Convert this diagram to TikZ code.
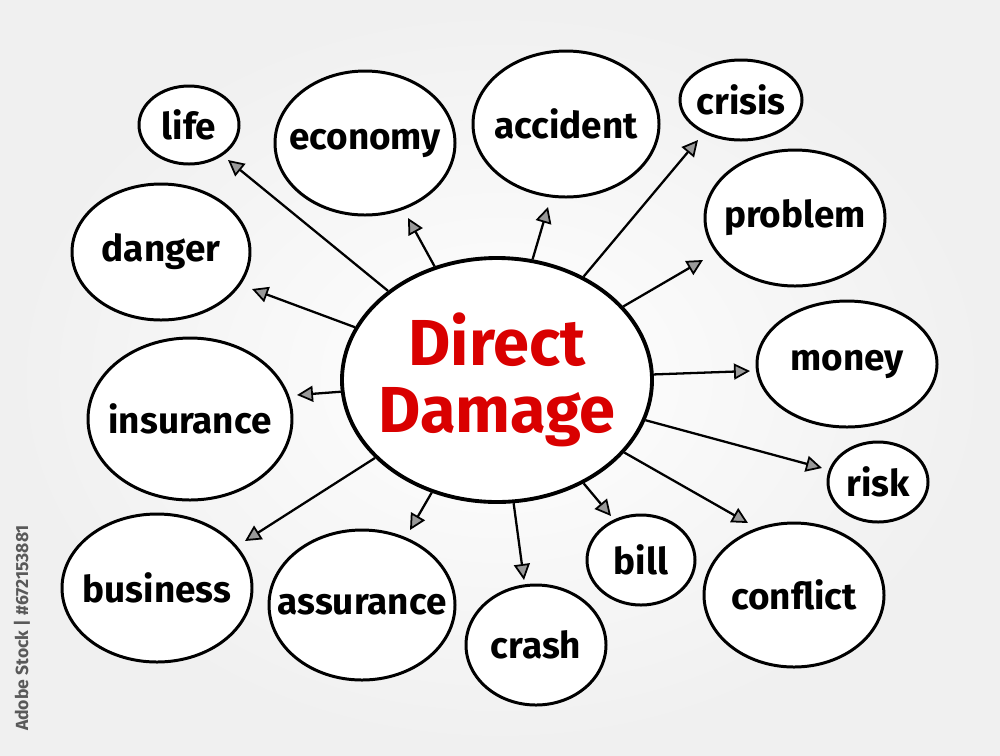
\documentclass[tikz,border=0pt]{standalone}
\usepackage{fontspec}
\setmainfont{Fira Sans}
\usetikzlibrary{shapes.geometric,arrows.meta}
\begin{document}
\begin{tikzpicture}[x=0.02cm,y=-0.02cm,
  bubble/.style={ellipse,draw=black,line width=1.7pt,fill=white,inner sep=0pt},
  lbl/.style={font=\fontsize{21}{24}\selectfont\bfseries,inner sep=0pt},
  hub/.style={ellipse,draw=black,line width=2.2pt,fill=white,inner sep=0pt},
  hublbl/.style={text=red!85!black,align=center,inner sep=0pt,
    font=\fontsize{37}{40}\selectfont\bfseries},
  arr/.style={line width=1.3pt,-{Triangle[length=0.32cm,width=0.32cm,line width=1pt,fill=black!40]}},
  stocklabel/.style={font=\fontsize{10}{12}\selectfont\bfseries,text=black!65}]
\useasboundingbox (0,0) rectangle (1000,755);
\shade[inner color=white,outer color=black!6] (0,0) rectangle (1000,755);
% hub
\node[hub,minimum width=310*0.02cm,minimum height=244*0.02cm,
  label={[hublbl]center:Direct\\[-2pt]Damage}] (c) at (497,380) {};
% satellites
\node[bubble,minimum width=100*0.02cm,minimum height=78*0.02cm,label={[lbl]center:life}] (life) at (189,125) {};
\node[bubble,minimum width=180*0.02cm,minimum height=144*0.02cm,label={[lbl]center:economy}] (economy) at (365,143) {};
\node[bubble,minimum width=186*0.02cm,minimum height=146*0.02cm,label={[lbl]center:accident}] (accident) at (566,124) {};
\node[bubble,minimum width=122*0.02cm,minimum height=80*0.02cm,label={[lbl]center:crisis}] (crisis) at (741,100) {};
\node[bubble,minimum width=180*0.02cm,minimum height=136*0.02cm,label={[lbl]center:problem}] (problem) at (795,218) {};
\node[bubble,minimum width=178*0.02cm,minimum height=136*0.02cm,label={[lbl]center:danger}] (danger) at (161,252) {};
\node[bubble,minimum width=180*0.02cm,minimum height=126*0.02cm,label={[lbl]center:money}] (money) at (847,364) {};
\node[bubble,minimum width=204*0.02cm,minimum height=162*0.02cm,label={[lbl]center:insurance}] (insurance) at (190,419) {};
\node[bubble,minimum width=100*0.02cm,minimum height=80*0.02cm,label={[lbl]center:risk}] (risk) at (878,482) {};
\node[bubble,minimum width=190*0.02cm,minimum height=148*0.02cm,label={[lbl]center:business}] (business) at (157,588) {};
\node[bubble,minimum width=186*0.02cm,minimum height=150*0.02cm,label={[lbl]center:assurance}] (assurance) at (362,605) {};
\node[bubble,minimum width=140*0.02cm,minimum height=120*0.02cm,label={[lbl]center:crash}] (crash) at (536,645) {};
\node[bubble,minimum width=108*0.02cm,minimum height=90*0.02cm,label={[lbl]center:bill}] (bill) at (641,560) {};
\node[bubble,minimum width=180*0.02cm,minimum height=144*0.02cm,label={[lbl]center:conflict}] (conflict) at (794,595) {};
% arrow tips
\coordinate (tlife) at (228,160);
\coordinate (teconomy) at (408,218);
\coordinate (taccident) at (548,207);
\coordinate (tcrisis) at (698,140);
\coordinate (tproblem) at (703,260);
\coordinate (tdanger) at (252,289);
\coordinate (tmoney) at (750,371);
\coordinate (tinsurance) at (297,395);
\coordinate (trisk) at (822,468);
\coordinate (tbusiness) at (245,541);
\coordinate (tassurance) at (410,530);
\coordinate (tcrash) at (524,580);
\coordinate (tbill) at (611,516);
\coordinate (tconflict) at (748,523);
\foreach \t in {life,economy,accident,crisis,problem,danger,money,insurance,risk,business,assurance,crash,bill,conflict}
  \draw[arr] (c) -- (t\t);
% watermark label
\node[stocklabel,rotate=90] (stock) at (22,628) {Adobe Stock | \#672153881};
\end{tikzpicture}
\end{document}
